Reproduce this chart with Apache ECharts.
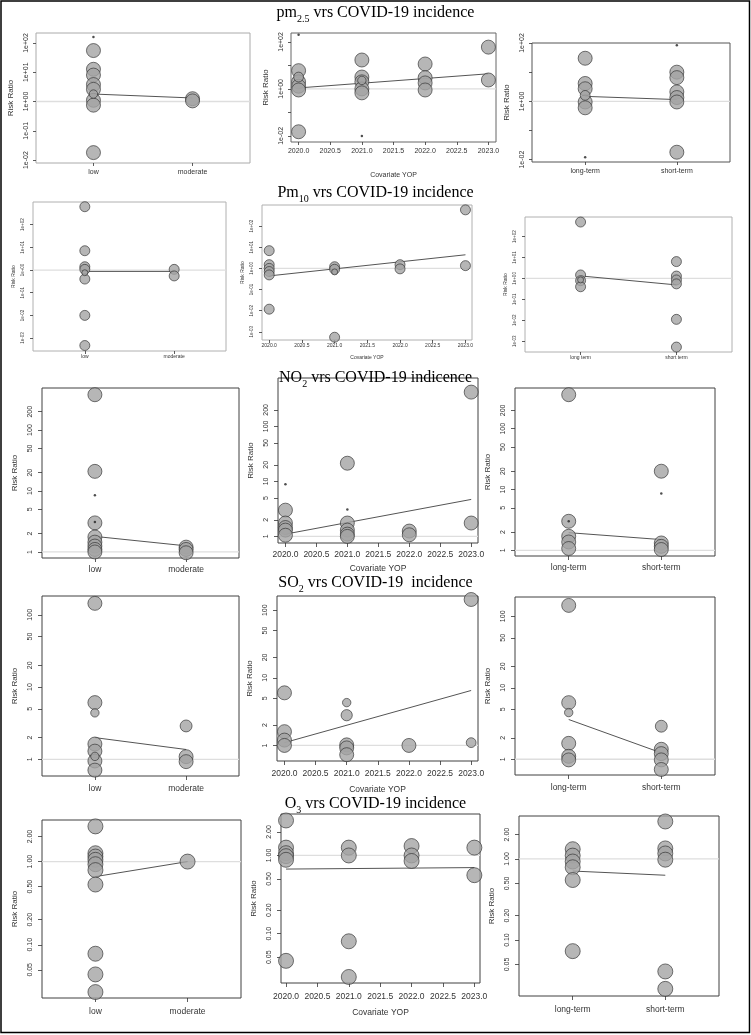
<!DOCTYPE html>
<html><head><meta charset="utf-8">
<script src="https://cdn.jsdelivr.net/npm/echarts@6/dist/echarts.min.js"></script>
<style>html,body{margin:0;padding:0;background:#fff}#c{width:751px;height:1035px}</style>
</head><body><div id="c"></div><script>
// ================= DATA =================
const exposureLevels = ['low', 'moderate'];
const durationLevels = ['long-term', 'short-term'];
const durationLabelsPm10 = ['long term', 'short term'];
const yopTickValues = [2020, 2020.5, 2021, 2021.5, 2022, 2022.5, 2023];

const decadeTickValues = [0.001, 0.01, 0.1, 1, 10, 100];
const decadeTickLabels = ['1e-03', '1e-02', '1e-01', '1e+00', '1e+01', '1e+02'];
const rrTickValues = [1, 2, 5, 10, 20, 50, 100, 200];
const rrTickLabels = ['1', '2', '5', '10', '20', '50', '100', '200'];
const o3TickValues = [0.05, 0.1, 0.2, 0.5, 1, 2];
const o3TickLabels = ['0.05', '0.10', '0.20', '0.50', '1.00', '2.00'];

const titles = [
  ['pm', '2.5', ' vrs COVID-19 incidence'],
  ['Pm', '10', ' vrs COVID-19 incidence'],
  ['NO', '2', ' vrs COVID-19 indicence'],
  ['SO', '2', ' vrs COVID-19  incidence'],
  ['O', '3', ' vrs COVID-19 incidence']
];

// PM2.5
const pm25_level = [['low',160],['low',55],['low',12.6],['low',8],['low',3.8],['low',2.6],['low',1.8],['low',1.1],['low',0.75],['low',0.018],['moderate',1.25],['moderate',1.05]];
const pm25_level_w = [0,1,1,1,1,1,0.6,1,1,1,1,1];
const pm25_level_fit = [1.8, 1.32];
const pm25_yop = [[2020,200],[2020,6.0],[2020,3.2],[2020,2.0],[2020,1.3],[2020,0.9],[2020,0.015],[2021,17],[2021,3.2],[2021,2.3],[2021,2.0],[2021,1.0],[2021,0.68],[2021,0.01],[2022,11.5],[2022,3.0],[2022,1.8],[2022,0.9],[2023,60],[2023,2.4]];
const pm25_yop_w = [0,1,0.7,1,1,1,1,1,1,0.6,1,1,1,0,1,1,1,1,1,1];
const pm25_yop_fit = [1.1, 4.4];
const pm25_term = [['long-term',30],['long-term',4.1],['long-term',2.7],['long-term',1.6],['long-term',0.95],['long-term',0.6],['long-term',0.012],['short-term',84],['short-term',10],['short-term',6.5],['short-term',2.1],['short-term',1.35],['short-term',0.95],['short-term',0.018]];
const pm25_term_w = [1,1,1,0.7,1,1,0,0,1,1,1,1,1,1];
const pm25_term_fit = [1.48, 1.15];

// PM10
const pm10_level = [['low',620],['low',7.1],['low',1.4],['low',1.07],['low',0.76],['low',0.4],['low',0.01],['low',0.00047],['moderate',1.07],['moderate',0.55]];
const pm10_level_w = [1,1,1,1,0.6,1,1,1,1,1];
const pm10_level_fit = [0.87, 0.87];
const pm10_yop = [[2020,6.9],[2020,1.5],[2020,1.0],[2020,0.71],[2020,0.49],[2020,0.0117],[2021,1.2],[2021,0.91],[2021,0.68],[2021,0.00055],[2022,1.5],[2022,0.95],[2023,590],[2023,1.35]];
const pm10_yop_w = [1,1,1,1,1,1,1,1,0.6,1,1,1,1,1];
const pm10_yop_fit = [0.44, 4.4];
const pm10_term = [['long-term',500],['long-term',1.47],['long-term',0.85],['long-term',0.78],['long-term',0.4],['short-term',6.4],['short-term',1.3],['short-term',0.85],['short-term',0.55],['short-term',0.011],['short-term',0.00052]];
const pm10_term_w = [1,1,0.6,1,1,1,1,1,1,1,1];
const pm10_term_fit = [1.32, 0.49];

// NO2
const no2_level = [['low',380],['low',21],['low',8.5],['low',3.0],['low',3.1],['low',1.76],['low',1.45],['low',1.25],['low',1.1],['low',1.0],['moderate',1.2],['moderate',1.1],['moderate',0.97]];
const no2_level_w = [1,1,0,1,0,1,1,1,1,1,1,1,1];
const no2_level_fit = [1.8, 1.26];
const no2_yop = [[2020,8.9],[2020,3.0],[2020,1.75],[2020,1.45],[2020,1.3],[2020,1.05],[2021,21.4],[2021,3.1],[2021,1.75],[2021,1.3],[2021,1.1],[2021,1.0],[2022,1.25],[2022,1.07],[2023,420],[2023,1.75]];
const no2_yop_w = [0,1,1,1,1,1,1,0,1,1,1,1,1,1,1,1];
const no2_yop_fit = [1.1, 4.7];
const no2_term = [['long-term',363],['long-term',3.0],['long-term',3.0],['long-term',1.7],['long-term',1.37],['long-term',1.07],['short-term',20],['short-term',8.6],['short-term',1.32],['short-term',1.16],['short-term',1.03]];
const no2_term_w = [1,1,0,1,1,1,1,0,1,1,1];
const no2_term_fit = [1.95, 1.5];

// SO2
const so2_level = [['low',144],['low',6.1],['low',4.4],['low',1.63],['low',1.3],['low',1.1],['low',0.95],['low',0.71],['moderate',2.9],['moderate',1.09],['moderate',0.93]];
const so2_level_w = [1,1,0.6,1,1,0.6,1,1,0.85,1,1];
const so2_level_fit = [2.0, 1.37];
const so2_yop = [[2020,6.0],[2020,1.6],[2020,1.2],[2020,1.0],[2021,4.3],[2021,2.8],[2021,1.02],[2021,0.92],[2021,0.73],[2022,1.0],[2023,144],[2023,1.1]];
const so2_yop_w = [1,1,1,1,0.6,0.8,1,1,1,1,1,0.7];
const so2_yop_fit = [1.1, 6.5];
const so2_term = [['long-term',142],['long-term',6.2],['long-term',4.5],['long-term',1.67],['long-term',1.1],['long-term',0.98],['short-term',2.9],['short-term',1.38],['short-term',1.2],['short-term',0.98],['short-term',0.72]];
const so2_term_w = [1,1,0.6,1,1,1,0.85,1,1,1,1];
const so2_term_fit = [3.6, 1.23];

// O3
const o3_level = [['low',2.65],['low',1.26],['low',1.15],['low',1.05],['low',0.93],['low',0.79],['low',0.53],['low',0.078],['low',0.044],['low',0.027],['moderate',1.0]];
const o3_level_w = [1,1,1,1,1,1,1,1,1,1,1];
const o3_level_fit = [0.66, 1.0];
const o3_yop = [[2020,2.8],[2020,1.26],[2020,1.07],[2020,0.98],[2020,0.88],[2020,0.045],[2021,1.26],[2021,1.0],[2021,0.08],[2021,0.028],[2022,1.32],[2022,1.0],[2022,0.85],[2023,1.26],[2023,0.56]];
const o3_yop_w = [1,1,1,1,1,1,1,1,1,1,1,1,1,1,1];
const o3_yop_fit = [0.67, 0.70];
const o3_term = [['long-term',1.32],['long-term',1.1],['long-term',0.93],['long-term',0.79],['long-term',0.55],['long-term',0.073],['short-term',2.9],['short-term',1.35],['short-term',1.17],['short-term',0.98],['short-term',0.041],['short-term',0.025]];
const o3_term_w = [1,1,1,1,1,1,1,1,1,1,1,1];
const o3_term_fit = [0.71, 0.63];

// ================= LAYOUT / STYLE =================
const FONT = 'Liberation Sans';
const rowStyle = [
  {frame:'#666666', xfs:7, yfs:7, nfs:8, tick:3, xm:6, ym:6, yng:21, xng:30, base:14, titleTop:2},
  {frame:'#b0b0b0', xfs:5, yfs:4.5, nfs:5, tick:3, xm:3, ym:8, yng:17, xng:15, base:10, titleTop:182},
  {frame:'#404040', xfs:8.5, yfs:7, nfs:8, tick:4, xm:7, ym:8, yng:23, xng:21, base:14, titleTop:367},
  {frame:'#404040', xfs:8.5, yfs:7, nfs:8, tick:4, xm:8, ym:8, yng:23, xng:24, base:14, titleTop:572},
  {frame:'#404040', xfs:8.5, yfs:7, nfs:8, tick:4, xm:9, ym:8, yng:23, xng:25, base:15, titleTop:793}
];
const catRange = [0.42, 2.58];
const panels = [
  // row 1
  {row:0, frame:'#aaaaaa', kind:'cat', levels:exposureLevels, pts:pm25_level, w:pm25_level_w, fit:pm25_level_fit, rect:[36,33,214,130], xr:catRange, ye:[-2.1,2.34], yt:decadeTickValues.slice(1), yl:decadeTickValues.slice(1), tv:decadeTickValues, tl:decadeTickLabels},
  {row:0, kind:'yop', pts:pm25_yop, w:pm25_yop_w, fit:pm25_yop_fit, rect:[291,33,205,109], xr:[2019.88,2023.12], ye:[-2.26,2.38], yt:decadeTickValues.slice(1), yl:[0.01,1,100], tv:decadeTickValues, tl:decadeTickLabels},
  {row:0, frame:'#555555', kind:'cat', levels:durationLevels, pts:pm25_term, w:pm25_term_w, fit:pm25_term_fit, rect:[532,43,198,119], xr:catRange, ye:[-2.08,2.0], yt:decadeTickValues.slice(1), yl:[0.01,1,100], tv:decadeTickValues, tl:decadeTickLabels},
  // row 2
  {row:1, kind:'cat', levels:exposureLevels, pts:pm10_level, w:pm10_level_w, fit:pm10_level_fit, rect:[33,202,193,149], xr:catRange, ye:[-3.57,3.0], yt:decadeTickValues, yl:decadeTickValues, tv:decadeTickValues, tl:decadeTickLabels},
  {row:1, kind:'yop', pts:pm10_yop, w:pm10_yop_w, fit:pm10_yop_fit, rect:[262,205,210,135], xr:[2019.89,2023.1], ye:[-3.39,3.0], yt:decadeTickValues, yl:decadeTickValues, tv:decadeTickValues, tl:decadeTickLabels},
  {row:1, kind:'cat', levels:durationLevels, labels:durationLabelsPm10, pts:pm10_term, w:pm10_term_w, fit:pm10_term_fit, rect:[525,217,207,135], xr:catRange, ye:[-3.52,2.94], yt:decadeTickValues, yl:decadeTickValues, tv:decadeTickValues, tl:decadeTickLabels},
  // row 3
  {row:2, kind:'cat', levels:exposureLevels, pts:no2_level, w:no2_level_w, fit:no2_level_fit, rect:[42,388,197,170], xr:catRange, ye:[-0.099,2.69], yt:rrTickValues, yl:rrTickValues, tv:rrTickValues, tl:rrTickLabels},
  {row:2, kind:'yop', pts:no2_yop, w:no2_yop_w, fit:no2_yop_fit, rect:[278,378,200,165], xr:[2019.88,2023.11], ye:[-0.12,2.88], yt:rrTickValues, yl:rrTickValues, tv:rrTickValues, tl:rrTickLabels},
  {row:2, kind:'cat', levels:durationLevels, pts:no2_term, w:no2_term_w, fit:no2_term_fit, rect:[515,388,200,168], xr:catRange, ye:[-0.094,2.67], yt:rrTickValues, yl:rrTickValues, tv:rrTickValues, tl:rrTickLabels},
  // row 4
  {row:3, kind:'cat', levels:exposureLevels, pts:so2_level, w:so2_level_w, fit:so2_level_fit, rect:[42,596,197,180], xr:catRange, ye:[-0.23,2.26], yt:rrTickValues, yl:rrTickValues, tv:rrTickValues, tl:rrTickLabels},
  {row:3, kind:'yop', pts:so2_yop, w:so2_yop_w, fit:so2_yop_fit, rect:[277,596,201,165], xr:[2019.88,2023.11], ye:[-0.23,2.21], yt:rrTickValues, yl:rrTickValues, tv:rrTickValues, tl:rrTickLabels},
  {row:3, kind:'cat', levels:durationLevels, pts:so2_term, w:so2_term_w, fit:so2_term_fit, rect:[515,597,200,178], xr:catRange, ye:[-0.22,2.27], yt:rrTickValues, yl:rrTickValues, tv:rrTickValues, tl:rrTickLabels},
  // row 5
  {row:4, kind:'cat', levels:exposureLevels, pts:o3_level, w:o3_level_w, fit:o3_level_fit, rect:[42,820,199,178], xr:catRange, ye:[-1.64,0.50], yt:o3TickValues, yl:o3TickValues, tv:o3TickValues, tl:o3TickLabels},
  {row:4, kind:'yop', pts:o3_yop, w:o3_yop_w, fit:o3_yop_fit, rect:[281,814,199,169], xr:[2019.92,2023.09], ye:[-1.63,0.53], yt:o3TickValues, yl:o3TickValues, tv:o3TickValues, tl:o3TickLabels},
  {row:4, kind:'cat', levels:durationLevels, pts:o3_term, w:o3_term_w, fit:o3_term_fit, rect:[519,816,200,180], xr:catRange, ye:[-1.69,0.53], yt:o3TickValues, yl:o3TickValues, tv:o3TickValues, tl:o3TickLabels}
];

// ================= BUILD =================
const option = {
  animation:false, backgroundColor:'#fff', textStyle:{fontFamily:FONT},
  title:[], grid:[], xAxis:[], yAxis:[], series:[], graphic:[]
};

titles.forEach((t, r) => {
  option.title.push({
    text:'{a|' + t[0] + '}{s|' + t[1] + '}{a|' + t[2] + '}',
    left:'center', top:rowStyle[r].titleTop, padding:0,
    textStyle:{fontWeight:'normal', fontFamily:'Liberation Serif', rich:{
      a:{fontFamily:'Liberation Serif', fontWeight:'normal', fontSize:16, color:'#000', lineHeight:22},
      s:{fontFamily:'Liberation Serif', fontWeight:'normal', fontSize:10, color:'#000', lineHeight:12, verticalAlign:'bottom'}
    }}
  });
});

function lookupLabel(v, vals, labs) {
  let best = 0, bd = Infinity;
  vals.forEach((x, k) => { const d = Math.abs(Math.log10(x) - Math.log10(v)); if (d < bd) { bd = d; best = k; } });
  return labs[best];
}

panels.forEach((p, i) => {
  const st = rowStyle[p.row];
  const isCat = p.kind === 'cat';
  const shown = p.labels || p.levels;
  const xTicks = isCat ? [1, 2] : yopTickValues;
  option.grid.push({left:p.rect[0], top:p.rect[1], width:p.rect[2], height:p.rect[3],
    show:true, borderColor:p.frame || st.frame, borderWidth:1, backgroundColor:'transparent'});
  option.xAxis.push({
    gridIndex:i, type:'value', min:p.xr[0], max:p.xr[1],
    axisLine:{show:false}, splitLine:{show:false},
    axisTick:{show:true, customValues:xTicks, length:st.tick, lineStyle:{color:'#333', width:0.8}},
    axisLabel:{show:true, customValues:xTicks, fontSize:st.xfs, color:'#333', margin:st.xm, fontFamily:FONT,
      formatter: v => isCat ? shown[Math.round(v) - 1] : Number(v).toFixed(1)},
    name: isCat ? '' : 'Covariate YOP', nameLocation:'middle', nameGap:st.xng,
    nameTextStyle:{fontSize:st.xfs, color:'#333', fontFamily:FONT}
  });
  option.yAxis.push({
    gridIndex:i, type:'log', logBase:10, min:Math.pow(10, p.ye[0]), max:Math.pow(10, p.ye[1]),
    axisLine:{show:false}, splitLine:{show:false},
    axisTick:{show:true, customValues:p.yt, length:st.tick, lineStyle:{color:'#333', width:0.8}},
    axisLabel:{show:true, customValues:p.yl, rotate:90, fontSize:st.yfs, margin:st.ym, color:'#333', fontFamily:FONT,
      formatter: v => lookupLabel(v, p.tv, p.tl)},
    name:'Risk Ratio', nameLocation:'middle', nameRotate:90, nameGap:st.yng,
    nameTextStyle:{fontSize:st.nfs, color:'#333', fontFamily:FONT}
  });
  const xOf = v => isCat ? p.levels.indexOf(v) + 1 : v;
  // reference line at RR = 1
  option.series.push({type:'line', xAxisIndex:i, yAxisIndex:i, silent:true, symbol:'none', z:1,
    lineStyle:{color:'#dedede', width:1.3}, data:[[p.xr[0], 1], [p.xr[1], 1]]});
  // meta-regression fit
  const fx = isCat ? [1, 2] : [2020, 2023];
  option.series.push({type:'line', xAxisIndex:i, yAxisIndex:i, silent:true, symbol:'none', z:2,
    lineStyle:{color:'#555', width:1}, data:[[fx[0], p.fit[0]], [fx[1], p.fit[1]]]});
  // studies
  const items = p.pts.map((d, k) => {
    const w = p.w[k];
    return {value:[xOf(d[0]), d[1]], symbolSize: w > 0 ? st.base * w : 2.5,
      itemStyle: w > 0 ? {color:'#a4a4a4', borderColor:'#2a2a2a', borderWidth:0.8} : {color:'#222', borderWidth:0}};
  }).sort((a, b) => b.symbolSize - a.symbolSize);
  option.series.push({type:'scatter', xAxisIndex:i, yAxisIndex:i, silent:true, z:3, symbol:'circle', data:items});
});

option.graphic.push({type:'rect', shape:{x:1, y:1, width:748.5, height:1031.5}, style:{fill:'none', stroke:'#000', lineWidth:1.5}, silent:true});

const chart = echarts.init(document.getElementById('c'), null, {renderer:'canvas'});
chart.setOption(option);
</script></body></html>
